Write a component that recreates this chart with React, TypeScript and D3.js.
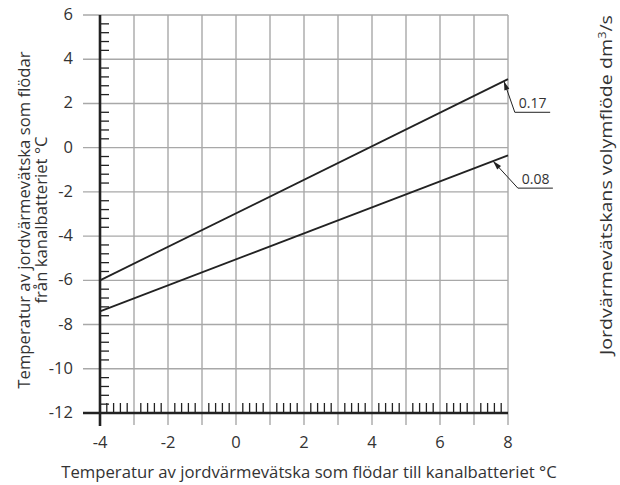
import React from "react";
import * as d3 from "d3";

const xTicks = [-4, -2, 0, 2, 4, 6, 8];
const yTicks = [-12, -10, -8, -6, -4, -2, 0, 2, 4, 6];
const xGrid = [-3, -2, -1, 0, 1, 2, 3, 4, 5, 6, 7, 8];
const flowLabels = ["0.17", "0.08"];
const lineStartX = [-4, -4];
const lineStartY = [-6.0, -7.4];
const lineEndX = [8, 8];
const lineEndY = [3.1, -0.35];
// annotation leader: tip x on line, elbow (x,y), end x (data units)
const tipX = [7.88, 7.56];
const elbowX = [8.2, 8.29];
const elbowY = [1.6, -1.83];
const endX = [9.24, 9.32];

const W = 620, H = 485;
const FONT = "'Open Sans', sans-serif";

export default function App() {
  const x = d3.scaleLinear().domain([-4, 8]).range([100, 508]);
  const y = d3.scaleLinear().domain([-12, 6]).range([413, 15]);
  const xMinor = d3.range(-4, 8.001, 0.2).filter((v) => Math.abs(v - Math.round(v)) > 0.01);
  const yMinor = d3.range(-12, 6.001, 0.4).filter((v) => Math.abs(v / 2 - Math.round(v / 2)) > 0.01);
  const line = d3.line<[number, number]>().x((d) => x(d[0])).y((d) => y(d[1]));
  const textColor = "#333";
  const titleSize = 16.7;

  return (
    <svg width={W} height={H} style={{ position: "absolute", left: 0, top: 0, background: "#fff" }} fontFamily={FONT}>
      {/* horizontal grid */}
      {yTicks.filter((t) => t !== -12).map((t) => (
        <line key={"hg" + t} x1={83} x2={x(8)} y1={y(t)} y2={y(t)} stroke="#a8a8a8" strokeWidth={1.4} />
      ))}
      {/* vertical grid */}
      {xGrid.map((t) => (
        <line key={"vg" + t} x1={x(t)} x2={x(t)} y1={y(6)} y2={y(-12) + 12} stroke="#a8a8a8" strokeWidth={1.4} />
      ))}
      {/* minor ticks x */}
      {xMinor.map((t, i) => (
        <line key={"xm" + i} x1={x(t)} x2={x(t)} y1={y(-12)} y2={y(-12) - 10} stroke="#222" strokeWidth={1.3} />
      ))}
      {/* minor ticks y */}
      {yMinor.map((t, i) => (
        <line key={"ym" + i} x1={x(-4)} x2={x(-4) + 9} y1={y(t)} y2={y(t)} stroke="#222" strokeWidth={1.3} />
      ))}
      {/* axes */}
      <line x1={83} x2={x(8)} y1={y(-12)} y2={y(-12)} stroke="#222" strokeWidth={2.6} />
      <line x1={x(-4)} x2={x(-4)} y1={y(6)} y2={y(-12) + 13} stroke="#222" strokeWidth={2.6} />
      {/* tick labels */}
      {yTicks.map((t) => (
        <text key={"yl" + t} x={73} y={y(t)} dy="0.3em" textAnchor="end" fontSize={16.5} fill={textColor}>{t}</text>
      ))}
      {xTicks.map((t) => (
        <text key={"xl" + t} x={x(t)} y={442} dy="0.35em" textAnchor="middle" fontSize={16.5} fill={textColor}>{t}</text>
      ))}
      {/* data lines */}
      {flowLabels.map((lab, i) => (
        <path key={"l" + lab} d={line([[lineStartX[i], lineStartY[i]], [lineEndX[i], lineEndY[i]]]) || ""} fill="none" stroke="#222" strokeWidth={1.8} />
      ))}
      {/* annotations */}
      {flowLabels.map((lab, i) => {
        const t = (tipX[i] - lineStartX[i]) / (lineEndX[i] - lineStartX[i]);
        const ty = lineStartY[i] + t * (lineEndY[i] - lineStartY[i]);
        const px = x(tipX[i]), py = y(ty);
        const ex = x(elbowX[i]), ey = y(elbowY[i]);
        const ang = Math.atan2(ey - py, ex - px);
        const L = 9, Wd = 2.6;
        const bx = px + Math.cos(ang) * L, by = py + Math.sin(ang) * L;
        const nx = -Math.sin(ang) * Wd, ny = Math.cos(ang) * Wd;
        return (
          <g key={"a" + lab}>
            <polyline points={`${px},${py} ${ex},${ey} ${x(endX[i])},${ey}`} fill="none" stroke="#222" strokeWidth={1} />
            <polygon points={`${px},${py} ${bx + nx},${by + ny} ${bx - nx},${by - ny}`} fill="#222" />
            <text x={ex + 4} y={ey - 4} fontSize={14} fill={textColor}>{lab}</text>
          </g>
        );
      })}
      {/* axis titles */}
      <text x={309} y={478} textAnchor="middle" fontSize={titleSize} fill={textColor}>
        Temperatur av jordvärmevätska som flödar till kanalbatteriet °C
      </text>
      <g transform="translate(0,220) rotate(-90)">
        <text x={0} y={30} textAnchor="middle" fontSize={titleSize} fill={textColor}>Temperatur av jordvärmevätska som flödar</text>
        <text x={0} y={47} textAnchor="middle" fontSize={titleSize} fill={textColor}>från kanalbatteriet °C</text>
      </g>
      <g transform="translate(0,185) rotate(-90)">
        <text x={0} y={612} textAnchor="middle" fontSize={17} fill={textColor} textLength={340} lengthAdjust="spacingAndGlyphs">
          Jordvärmevätskans volymflöde dm<tspan dy="-6" fontSize={11}>3</tspan><tspan dy="6">/s</tspan>
        </text>
      </g>
    </svg>
  );
}
